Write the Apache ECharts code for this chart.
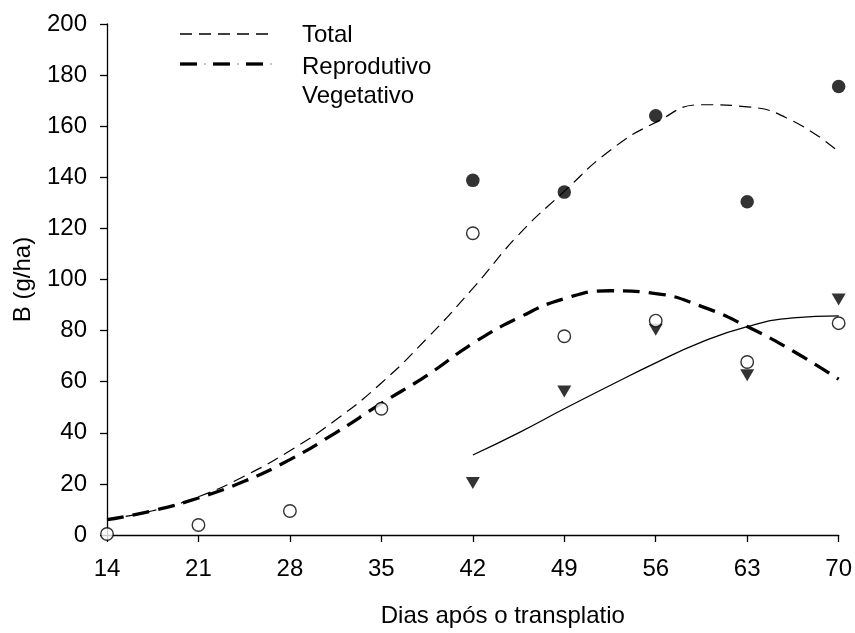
<!DOCTYPE html>
<html><head><meta charset="utf-8">
<script src="https://cdn.jsdelivr.net/npm/echarts@6/dist/echarts.min.js"></script>
<style>html,body{margin:0;padding:0;background:#fff}#c{width:855px;height:633px}</style>
</head><body><div id="c"></div>
<script>
const days = [14, 21, 28, 35, 42, 49, 56, 63, 70];
const lateDays = [42, 49, 56, 63, 70];
const fitDays = [14, 17.5, 21, 24.5, 28, 31.5, 35, 38.5, 42, 45.5, 49, 52.5, 56, 59.5, 63, 66.5, 70];
const vegFitDays = [42, 45.5, 49, 52.5, 56, 59.5, 63, 66.5, 70];
const xTicks = [14, 21, 28, 35, 42, 49, 56, 63, 70];
const yTicks = [0, 20, 40, 60, 80, 100, 120, 140, 160, 180, 200];
// observed points
const totalObs = [138.8, 134.2, 164.1, 130.4, 175.5];                   // filled circles (42..70)
const reproObs = [0.4, 3.9, 9.4, 49.4, 118.1, 77.8, 83.9, 67.7, 82.9];  // open circles (14..70)
const vegObs = [20.4, 56.2, 80.3, 62.5, 92.2];                          // triangles (42..70)
// fitted curves
const totalFit = [6.2, 9.5, 15, 23, 33, 45, 59.5, 77, 96.5, 117.5, 134.5, 150.5, 161.5, 168.4, 167.6, 162, 150];
const reproFit = [6, 9.5, 14.5, 21, 29.5, 40, 51.5, 62.5, 75, 85, 92.5, 95.6, 94.5, 89.5, 81.6, 72, 61];
const vegFit = [31.3, 40, 49.4, 58.5, 67.4, 75.5, 81.6, 85, 85.8];
const legendNames = ['Total', 'Reprodutivo', 'Vegetativo'];

const pair = (xs, ys) => xs.map((x, i) => [x, ys[i]]);
const FONT = 'Liberation Sans, Arial, sans-serif';
const FS = 24;
const chart = echarts.init(document.getElementById('c'), null, {renderer: 'canvas'});
chart.setOption({
  animation: false,
  backgroundColor: '#fff',
  textStyle: {fontFamily: FONT, color: '#000'},
  grid: {left: 107, right: 15, top: 24, bottom: 92},
  xAxis: {
    type: 'value', min: 14, max: 70, interval: 7,
    name: 'Dias após o transplatio', nameLocation: 'middle', nameGap: 69,
    nameTextStyle: {fontSize: FS, color: '#000', fontFamily: FONT, padding: [0, 0, 0, 60]},
    axisLine: {lineStyle: {color: '#000', width: 1.3}},
    axisTick: {show: true, length: 7, lineStyle: {color: '#000', width: 1.3}},
    axisLabel: {fontSize: FS, color: '#000', margin: 22, fontFamily: FONT,
      formatter: v => xTicks.includes(v) ? String(v) : ''},
    splitLine: {show: false}
  },
  yAxis: {
    type: 'value', min: 0, max: 200, interval: 20,
    name: 'B (g/ha)', nameLocation: 'middle', nameGap: 72, nameRotate: 90,
    nameTextStyle: {fontSize: FS, color: '#000', fontFamily: FONT},
    axisLine: {show: true, lineStyle: {color: '#000', width: 1.3}},
    axisTick: {show: true, length: 7, lineStyle: {color: '#000', width: 1.3}},
    axisLabel: {fontSize: FS, color: '#000', margin: 20, fontFamily: FONT,
      formatter: v => yTicks.includes(v) ? String(v) : ''},
    splitLine: {show: false}
  },
  graphic: [
    {type: 'line', shape: {x1: 180, y1: 34, x2: 273, y2: 34}, style: {stroke: '#000', lineWidth: 1.4, lineDash: [12, 7]}},
    {type: 'line', shape: {x1: 180, y1: 64, x2: 197, y2: 64}, style: {stroke: '#000', lineWidth: 3.3}},
    {type: 'line', shape: {x1: 213, y1: 64, x2: 230, y2: 64}, style: {stroke: '#000', lineWidth: 3.3}},
    {type: 'line', shape: {x1: 246, y1: 64, x2: 263, y2: 64}, style: {stroke: '#000', lineWidth: 3.3}},
    {type: 'line', shape: {x1: 204, y1: 64, x2: 206, y2: 64}, style: {stroke: '#888', lineWidth: 1}},
    {type: 'line', shape: {x1: 237, y1: 64, x2: 239, y2: 64}, style: {stroke: '#888', lineWidth: 1}},
    {type: 'line', shape: {x1: 270, y1: 64, x2: 272, y2: 64}, style: {stroke: '#888', lineWidth: 1}},
    {type: 'text', style: {x: 302, y: 35, text: legendNames[0], fontSize: FS, fill: '#000', fontFamily: FONT, verticalAlign: 'middle'}},
    {type: 'text', style: {x: 302, y: 67, text: legendNames[1], fontSize: FS, fill: '#000', fontFamily: FONT, verticalAlign: 'middle'}},
    {type: 'text', style: {x: 302, y: 96, text: legendNames[2], fontSize: FS, fill: '#000', fontFamily: FONT, verticalAlign: 'middle'}}
  ],
  series: [
    {name: 'Total', type: 'line', data: pair(fitDays, totalFit), smooth: 0.5, showSymbol: false, symbol: 'none',
      lineStyle: {color: '#000', width: 1.2, type: [12, 7]}, z: 2},
    {name: 'Reprodutivo', type: 'line', data: pair(fitDays, reproFit), smooth: 0.5, showSymbol: false, symbol: 'none',
      lineStyle: {color: '#000', width: 3.3, type: [17, 9]}, z: 2},
    {name: 'Vegetativo', type: 'line', data: pair(vegFitDays, vegFit), smooth: 0.5, showSymbol: false, symbol: 'none',
      lineStyle: {color: '#000', width: 1.3, type: 'solid'}, z: 2},
    {name: 'Total obs', type: 'scatter', data: pair(lateDays, totalObs), symbol: 'circle', symbolSize: 13.5,
      itemStyle: {color: '#000'}, z: 5},
    {name: 'Repro obs', type: 'scatter', data: pair(days, reproObs), symbol: 'circle', symbolSize: 12.5,
      itemStyle: {color: '#fff', borderColor: '#000', borderWidth: 1.4}, z: 6},
    {name: 'Veg obs', type: 'scatter', data: pair(lateDays, vegObs), symbol: 'triangle', symbolRotate: 180, symbolSize: [14, 12],
      itemStyle: {color: '#000'}, z: 5}
  ]
});
</script></body></html>
